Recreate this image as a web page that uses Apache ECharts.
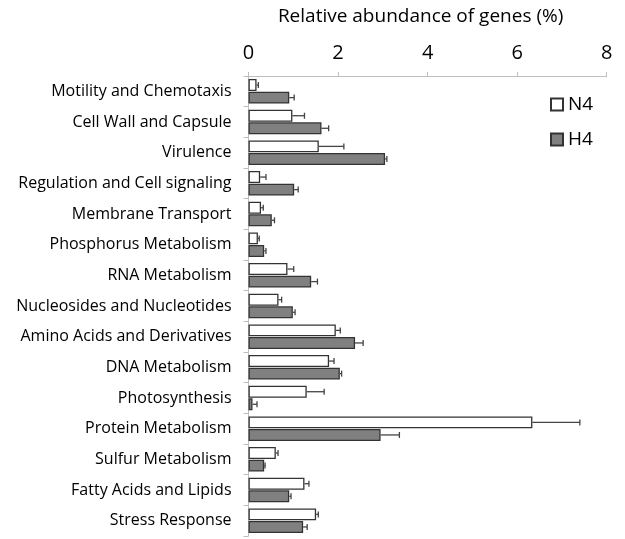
<!DOCTYPE html>
<html>
<head>
<meta charset="utf-8">
<script src="https://cdn.jsdelivr.net/npm/echarts@6/dist/echarts.min.js"></script>
<style>html,body{margin:0;padding:0;background:#fff}#c{width:625px;height:539px}</style>
</head>
<body>
<div id="c"></div>
<script>
const categories = ["Motility and Chemotaxis","Cell Wall and Capsule","Virulence","Regulation and Cell signaling","Membrane Transport","Phosphorus Metabolism","RNA Metabolism","Nucleosides and Nucleotides","Amino Acids and Derivatives","DNA Metabolism","Photosynthesis","Protein Metabolism","Sulfur Metabolism","Fatty Acids and Lipids","Stress Response"];
const n4 = [0.18,0.98,1.57,0.26,0.28,0.21,0.87,0.67,1.95,1.80,1.30,6.34,0.61,1.25,1.51];
const n4Err = [0.04,0.27,0.56,0.13,0.05,0.03,0.14,0.07,0.10,0.11,0.39,1.06,0.05,0.10,0.05];
const h4 = [0.91,1.63,3.05,1.02,0.52,0.35,1.40,0.99,2.38,2.04,0.09,2.95,0.35,0.91,1.22];
const h4Err = [0.11,0.16,0.04,0.09,0.06,0.04,0.14,0.05,0.18,0.04,0.10,0.42,0.02,0.04,0.09];
const xTicks = [0,2,4,6,8];

const chart = echarts.init(document.getElementById('c'));
const FONT = 'Open Sans';
const BAR_GAP = 0.05, CAT_GAP = 0.2;

function errSeries(vals, errs, sign) {
  return {
    type: 'custom',
    silent: true,
    z: 5,
    data: vals.map((v, i) => [v, i, errs[i]]),
    renderItem: function (params, api) {
      const v = api.value(0), idx = api.value(1), e = api.value(2);
      const bw = api.size([0, 1])[1];
      const w = bw * (1 - CAT_GAP) / (2 + BAR_GAP);
      const off = sign * (bw * (1 - CAT_GAP) / 2 - w / 2);
      const p0 = api.coord([v, idx]);
      const p1 = api.coord([v + e, idx]);
      const y = p0[1] + off;
      const style = { stroke: '#444', lineWidth: 1.3 };
      return {
        type: 'group',
        children: [
          { type: 'line', shape: { x1: p0[0], y1: y, x2: p1[0], y2: y }, style: style },
          { type: 'line', shape: { x1: p1[0], y1: y - 3, x2: p1[0], y2: y + 3 }, style: style }
        ]
      };
    }
  };
}

chart.setOption({
  animation: false,
  textStyle: { fontFamily: FONT },
  grid: { left: 248.5, right: 18.3, top: 76, bottom: 3 },
  legend: {
    orient: 'vertical', left: 545, top: 90, itemGap: 16,
    itemWidth: 12, itemHeight: 12, icon: 'rect',
    textStyle: { fontSize: 19, color: '#000', fontFamily: FONT },
    data: ['N4', 'H4']
  },
  xAxis: {
    type: 'value', position: 'top', min: xTicks[0], max: xTicks[xTicks.length - 1], interval: 2,
    name: 'Relative abundance of genes (%)', nameLocation: 'middle', nameGap: 50,
    nameTextStyle: { fontSize: 19, color: '#000', fontFamily: FONT, padding: [0, 14, 0, 0] },
    axisLine: { show: true, lineStyle: { color: '#bfbfbf', width: 1 } },
    axisTick: { show: true, length: 4, lineStyle: { color: '#bfbfbf' } },
    axisLabel: { fontSize: 20, color: '#000', margin: 13, fontFamily: FONT },
    splitLine: { show: false }
  },
  yAxis: {
    type: 'category', inverse: true, data: categories,
    axisLine: { show: true, lineStyle: { color: '#bfbfbf', width: 1 } },
    axisTick: { show: true, length: 5, lineStyle: { color: '#bfbfbf' } },
    axisLabel: { fontSize: 16, color: '#000', margin: 17, fontFamily: FONT }
  },
  series: [
    { name: 'N4', type: 'bar', data: n4, barGap: (BAR_GAP * 100) + '%', barCategoryGap: (CAT_GAP * 100) + '%',
      itemStyle: { color: '#ffffff', borderColor: '#333', borderWidth: 1.3 } },
    { name: 'H4', type: 'bar', data: h4, barGap: (BAR_GAP * 100) + '%', barCategoryGap: (CAT_GAP * 100) + '%',
      itemStyle: { color: '#808080', borderColor: '#333', borderWidth: 1.3 } },
    errSeries(n4, n4Err, -1),
    errSeries(h4, h4Err, 1)
  ]
});
</script>
</body>
</html>
